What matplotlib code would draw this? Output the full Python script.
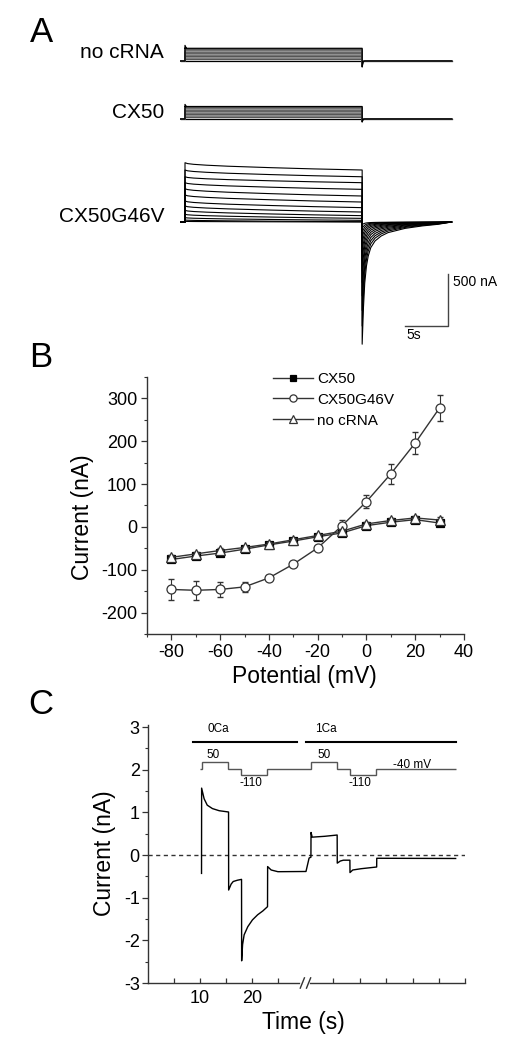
import matplotlib
matplotlib.use('Agg')
import matplotlib.pyplot as plt
import numpy as np
from matplotlib.ticker import MultipleLocator

plt.rcParams['font.family'] = ['Liberation Sans', 'DejaVu Sans']
plt.rcParams['axes.unicode_minus'] = False

# ---------------- Data ----------------
# Panel A: representative traces (time in s from step onset, current in nA)
a_step_end = 20.6
g46v_peak = [570, 500, 435, 378, 320, 260, 202, 154, 112, 74, 42, 19, 6]
g46v_end = [500, 435, 378, 314, 250, 192, 138, 96, 61, 35, 16, 3, 0]
g46v_tail = [-1175, -1000, -850, -710, -580, -470, -370, -285, -210, -150, -100, -60, -25]
# relative decay of the step current
step_decay_t = [0, 0.3, 1.0, 2.5, 5, 10, 15, 20.6]
step_decay_frac = [1, 0.88, 0.78, 0.66, 0.52, 0.32, 0.15, 0]
# relative decay of the tail current after repolarisation
tail_t = [0, 0.15, 0.3, 0.5, 0.7, 1.0, 1.5, 2.2, 3.0, 5.0, 7.0, 8.8, 10.4]
tail_frac = [1, 0.7, 0.5, 0.36, 0.28, 0.21, 0.155, 0.115, 0.087, 0.052, 0.032, 0.019, 0.0]
# controls: tail is only a brief capacitive blip
ctrl_tail_t = [0, 0.1, 0.3, 10.4]
ctrl_tail_frac = [1, 0.15, 0, 0]
nocrna_level = [0, 14, 28, 42, 56, 70, 84, 98, 112, 122]
nocrna_tail = [0, -6, -12, -18, -24, -30, -36, -42, -50, -58]
cx50_level = [0, 14, 28, 42, 56, 70, 84, 98, 112, 120]
cx50_tail = [0, -3, -6, -9, -12, -15, -18, -21, -25, -29]
onset_spike = {'no cRNA': 150, 'CX50': 140}

# Panel B: I-V relation
potential = [-80, -70, -60, -50, -40, -30, -20, -10, 0, 10, 20, 30]
cx50_i = [-76, -68, -61, -52, -42, -33, -23, -14, 3, 11, 17, 9]
cx50_err = [6, 5, 5, 4, 4, 4, 4, 4, 4, 5, 6, 6]
g46v_i = [-146, -148, -146, -140, -119, -87, -49, 3, 59, 124, 196, 278]
g46v_err = [25, 22, 17, 12, 6, 5, 4, 12, 16, 23, 25, 31]
nocrna_i = [-71, -63, -55, -48, -40, -30, -20, -10, 7, 15, 21, 16]
nocrna_err = [5, 5, 5, 4, 4, 4, 4, 4, 4, 5, 5, 6]

# Panel C: current trace in 0 Ca / 1 Ca
c_time = [10.3, 10.32, 10.8, 11.4, 12.4, 13.7, 15.5, 15.52, 16.0, 16.4, 17.2, 18.0,
          18.02, 18.2, 18.5, 19.2, 20.1, 21.1, 22.1, 23.0, 23.02, 23.7, 25.0, 30.4,
          31.0, 31.35, 31.37, 31.6, 34.0, 36.4, 36.42, 37.0, 37.6, 38.85, 38.87, 39.4,
          41.0, 44.0, 44.02, 59.2]
c_current = [-0.43, 1.57, 1.32, 1.17, 1.09, 1.04, 1.01, -0.82, -0.68, -0.62, -0.59, -0.57,
             -2.48, -2.1, -1.87, -1.68, -1.52, -1.40, -1.31, -1.21, -0.27, -0.35, -0.39, -0.385,
             -0.07, -0.05, 0.53, 0.42, 0.44, 0.47, -0.19, -0.14, -0.12, -0.12, -0.41, -0.35,
             -0.32, -0.28, -0.075, -0.08]
prot_edges = [10.0, 10.3, 15.45, 17.8, 22.95, 31.35, 36.4, 38.85, 43.97, 59.2]
prot_mv = [-40, 50, -40, -110, -40, 50, -40, -110, -40]
c_xtick_pos = [5, 10, 15, 20, 25, 35.6, 40.7, 45.8, 50.9, 56.0, 61.0]
c_xtick_labels = ['', '10', '', '20', '', '', '', '', '', '', '']

# ---------------- Figure ----------------
W, H = 512, 1050
fig = plt.figure(figsize=(W / 100, H / 100), dpi=100)


def px_axes(left, top, right, bottom):
    return fig.add_axes([left / W, 1 - bottom / H, (right - left) / W, (bottom - top) / H])


def fig_text(x, y, s, **kw):
    fig.text(x / W, 1 - y / H, s, **kw)


# ---------- Panel A ----------
t0_px, base_px, px_per_s, nA_per_px = 185, 222, 8.6, 500 / 52
axA = px_axes(150, 15, 505, 360)
axA.set_xlim((150 - t0_px) / px_per_s, (505 - t0_px) / px_per_s)
axA.set_ylim((base_px - 360) * nA_per_px, (base_px - 15) * nA_per_px)
axA.axis('off')

off_nocrna = (base_px - 61) * nA_per_px
off_cx50 = (base_px - 119) * nA_per_px


def control_group(levels, tails, offset, spike):
    for k, (lv, tl) in enumerate(zip(levels, tails)):
        t = [-0.5, 0]
        y = [0, 0]
        if k == len(levels) - 1:
            t += [0, 0.15]
            y += [spike, lv]
        t += [0, a_step_end] + [a_step_end + s for s in ctrl_tail_t]
        y += [lv, lv] + [tl * f for f in ctrl_tail_frac]
        col = 'black' if k in (0, len(levels) - 1) else '#555555'
        axA.plot(t, np.array(y) + offset, color=col, lw=0.9)


control_group(nocrna_level, nocrna_tail, off_nocrna, onset_spike['no cRNA'])
control_group(cx50_level, cx50_tail, off_cx50, onset_spike['CX50'])

for pk, en, tl in zip(g46v_peak, g46v_end, g46v_tail):
    t = [-0.5, 0] + step_decay_t + [a_step_end + s for s in tail_t]
    y = [0, 0] + [en + (pk - en) * f for f in step_decay_frac] + [tl * f for f in tail_frac]
    axA.plot(t, y, color='black', lw=0.8)

# scale bar
sb_x = (448 - t0_px) / px_per_s
axA.plot([sb_x - 5, sb_x, sb_x], [-1000, -1000, -500], color='#444444', lw=1)
axA.text(sb_x + 0.6, -580, '500 nA', fontsize=10, va='center', ha='left')
axA.text(sb_x - 4.8, -1090, '5s', fontsize=10, va='center', ha='left')

fig_text(164, 53, 'no cRNA', fontsize=15, ha='right', va='center')
fig_text(164, 113, 'CX50', fontsize=15, ha='right', va='center')
fig_text(164, 216, 'CX50G46V', fontsize=15, ha='right', va='center')

# ---------- Panel B ----------
axB = px_axes(147, 377, 464, 634)
lc = '#333333'
series = [
    (cx50_i, cx50_err, 's', 5.5, 'black', 'CX50'),
    (g46v_i, g46v_err, 'o', 6.5, 'white', 'CX50G46V'),
    (nocrna_i, nocrna_err, '^', 6.5, 'white', 'no cRNA'),
]
for vals, err, mk, ms, mfc, name in series:
    axB.errorbar(potential, vals, yerr=err, fmt='none', ecolor=lc, elinewidth=0.8, capsize=2.5)
    axB.plot(potential, vals, color=lc, lw=1, marker=mk, ms=ms, mfc=mfc,
             mec='black' if mfc == 'black' else '#333333', mew=0.9, label=name)
axB.set_xlim(-90, 40)
axB.set_ylim(-250, 350)
axB.xaxis.set_major_locator(MultipleLocator(20))
axB.xaxis.set_minor_locator(MultipleLocator(10))
axB.yaxis.set_major_locator(MultipleLocator(100))
axB.yaxis.set_minor_locator(MultipleLocator(50))
axB.set_xlabel('Potential (mV)', fontsize=16.5)
axB.set_ylabel('Current (nA)', fontsize=16.5, va='center')
axB.xaxis.set_label_coords(0.498, -0.167)
axB.xaxis.label.set_va('center')
axB.yaxis.set_label_coords(-0.205, 0.453)
leg = axB.legend(loc='upper left', bbox_to_anchor=(0.397, 1.02), frameon=False,
                 fontsize=11, handlelength=2.6, handletextpad=0.3, labelspacing=0.45,
                 borderpad=0, borderaxespad=0, markerscale=0.8)

# ---------- Panel C ----------
axC = px_axes(148, 725, 465, 983)
axC.plot([0, 61], [0, 0], color='#333333', lw=1, ls=(0, (3, 2.5)))
axC.plot(c_time, c_current, color='black', lw=1)
prot_y = [2.01 + (v + 40) * 0.0019 for v in prot_mv]
axC.stairs(prot_y, prot_edges, baseline=None, color='#555555', lw=1)
axC.plot([8.7, 28.6], [2.65, 2.65], color='black', lw=1.5)
axC.plot([30.4, 59.2], [2.65, 2.65], color='black', lw=1.5)
axC.text(11.5, 2.95, '0Ca', fontsize=8.5, va='center', ha='left')
axC.text(32.1, 2.95, '1Ca', fontsize=8.5, va='center', ha='left')
axC.text(12.6, 2.34, '50', fontsize=8.5, va='center', ha='center')
axC.text(19.9, 1.68, '-110', fontsize=8.5, va='center', ha='center')
axC.text(33.8, 2.34, '50', fontsize=8.5, va='center', ha='center')
axC.text(40.8, 1.68, '-110', fontsize=8.5, va='center', ha='center')
axC.text(50.9, 2.12, '-40 mV', fontsize=8.5, va='center', ha='center')
axC.set_xlim(0, 61)
axC.set_ylim(-3, 3.05)
axC.set_xticks(c_xtick_pos, labels=c_xtick_labels)
axC.yaxis.set_major_locator(MultipleLocator(1))
axC.yaxis.set_minor_locator(MultipleLocator(0.5))
axC.set_xlabel('Time (s)', fontsize=16.5)
axC.set_ylabel('Current (nA)', fontsize=16.5, va='center')
axC.xaxis.set_label_coords(0.49, -0.155)
axC.xaxis.label.set_va('center')
axC.yaxis.set_label_coords(-0.136, 0.504)
# axis break mark
axC.plot([29.5, 30.7], [-3, -3], color='white', lw=2, clip_on=False, zorder=5)
for bx in (29.3, 30.5):
    axC.plot([bx, bx + 0.8], [-3.12, -2.88], color='#333333', lw=1, clip_on=False, zorder=6)

for ax in (axB, axC):
    for side in ('top', 'right'):
        ax.spines[side].set_visible(False)
    for side in ('left', 'bottom'):
        ax.spines[side].set_color('#333333')
        ax.spines[side].set_linewidth(1)
    ax.tick_params(which='major', direction='out', length=4, width=0.9, color='#333333',
                   labelsize=13, pad=3)
    ax.tick_params(which='minor', direction='out', length=2.5, width=0.8, color='#333333')
axC.tick_params(axis='x', which='major', direction='in', length=3.5, pad=5)
axC.tick_params(axis='y', which='major', pad=2)

# panel letters
fig_text(41, 33, 'A', fontsize=25, ha='center', va='center')
fig_text(41, 358, 'B', fontsize=25, ha='center', va='center')
fig_text(41, 704, 'C', fontsize=25, ha='center', va='center')

fig.savefig('out.png', dpi=100)
